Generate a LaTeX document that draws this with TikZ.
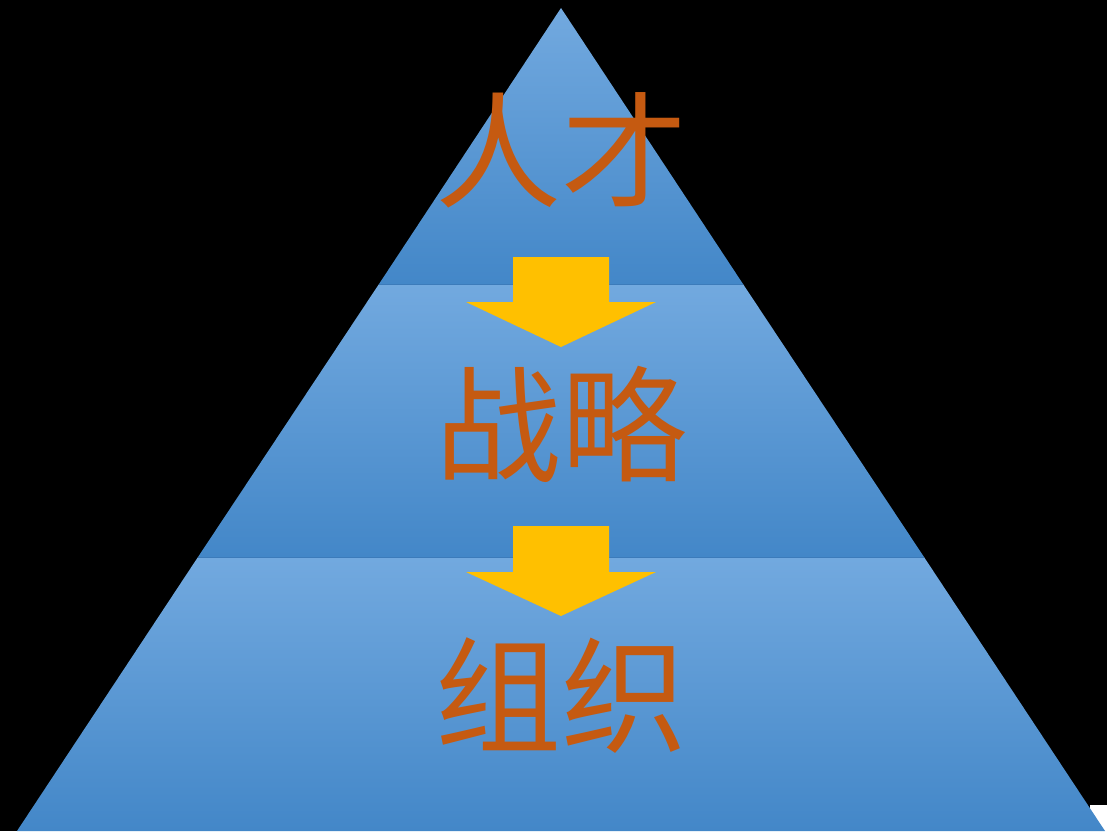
\documentclass[tikz,border=0pt]{standalone}
\usepackage{fontspec}
\newfontfamily\cjk{Noto Sans CJK SC}
\definecolor{bandtop}{HTML}{72A9DF}
\definecolor{bandbot}{HTML}{4387C8}
\definecolor{bandline}{HTML}{3C7BBA}
\definecolor{arrowfill}{HTML}{FFC000}
\definecolor{textcol}{HTML}{C55A11}
\begin{document}
\begin{tikzpicture}[x=1pt,y=-1pt,
  band/.style={top color=bandtop,bottom color=bandbot,shading angle=0},
  bandedge/.style={draw=bandline,line width=0.8pt},
  downarrow/.style={fill=arrowfill},
  label/.style={text=textcol,font=\cjk\fontsize{126}{128}\selectfont,inner sep=0pt,anchor=center}]
\useasboundingbox (0,0) rectangle (1107,831);
\fill[black] (0,0) rectangle (1107,831);
\fill[white] (1090,805) rectangle (1107,831);
% bands
\shade[band] (561,8) -- (743,284) -- (379,284) -- cycle;
\shade[band] (379,284) -- (743,284) -- (924,557) -- (198,557) -- cycle;
\shade[band] (198,557) -- (924,557) -- (1105,831) -- (17,831) -- cycle;
\draw[bandedge] (379,284) -- (743,284);
\draw[bandedge] (198,557) -- (924,557);
% arrows
\fill[downarrow] (513,257) -- (609,257) -- (609,302) -- (656,302) -- (561,347) -- (466,302) -- (513,302) -- cycle;
\fill[downarrow] (513,526) -- (609,526) -- (609,572) -- (656,572) -- (561,616) -- (466,572) -- (513,572) -- cycle;
% labels
\node[label] (rencai) at (561,150) {人才};
\node[label] (zhanlue) at (561,424) {战略};
\node[label] (zuzhi) at (561,696) {组织};
\end{tikzpicture}
\end{document}
